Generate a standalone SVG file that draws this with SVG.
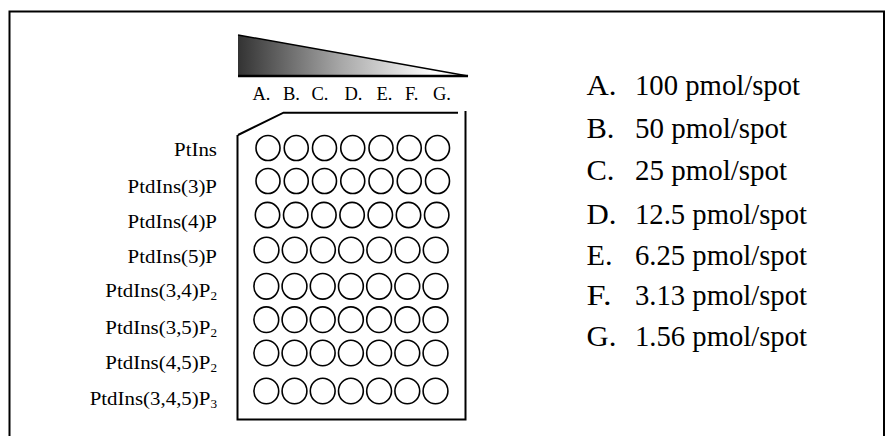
<svg xmlns="http://www.w3.org/2000/svg" width="886" height="436" viewBox="0 0 886 436">
<defs>
<linearGradient id="grad" x1="238" y1="0" x2="468" y2="0" gradientUnits="userSpaceOnUse">
<stop offset="0" stop-color="#333333"/>
<stop offset="0.45" stop-color="#a8a8a8"/>
<stop offset="0.85" stop-color="#ffffff"/>
</linearGradient>
<style>
text{font-family:"Liberation Serif","Times New Roman",serif;fill:#000}
.lab{font-size:19px;text-anchor:end}
.col{font-size:18.5px}
.leg{font-size:30px}
.well{fill:none;stroke:#000;stroke-width:1.6}
.edge{fill:none;stroke:#000;stroke-width:2}
</style>
</defs>
<rect width="886" height="436" fill="#fff"/>
<path class="edge" d="M9.5,440 V11.5 H884 V440" stroke="#222"/>

<g id="gradient-wedge">
<polygon points="238,35 238,76 468,76" fill="url(#grad)"/>
<path d="M238,35 L468,76" stroke="#000" stroke-width="1.5" fill="none"/>
<path d="M238,76 H468" stroke="#000" stroke-width="2.5" fill="none"/>
</g>

<g id="column-letters">
<text class="col" x="252.5" y="100">A.</text>
<text class="col" x="283" y="100">B.</text>
<text class="col" x="311.5" y="100">C.</text>
<text class="col" x="344.5" y="100">D.</text>
<text class="col" x="376.5" y="100">E.</text>
<text class="col" x="405" y="100">F.</text>
<text class="col" x="433" y="100">G.</text>
</g>

<g id="plate">
<path class="edge" d="M238,135 L283.5,112.7 H458 M465.5,111 V419.5 H237.5 V135"/>
</g>

<g id="wells">
<g transform="translate(268,148)">
<ellipse class="well" cx="0" cy="0" rx="12" ry="12.5"/><ellipse class="well" cx="28.25" cy="0" rx="12" ry="12.5"/><ellipse class="well" cx="56.5" cy="0" rx="12" ry="12.5"/><ellipse class="well" cx="84.75" cy="0" rx="12" ry="12.5"/><ellipse class="well" cx="113" cy="0" rx="12" ry="12.5"/><ellipse class="well" cx="141.25" cy="0" rx="12" ry="12.5"/><ellipse class="well" cx="169.5" cy="0" rx="12" ry="12.5"/>
</g>
<g transform="translate(268,181)">
<ellipse class="well" cx="0" cy="0" rx="12" ry="12.5"/><ellipse class="well" cx="28.25" cy="0" rx="12" ry="12.5"/><ellipse class="well" cx="56.5" cy="0" rx="12" ry="12.5"/><ellipse class="well" cx="84.75" cy="0" rx="12" ry="12.5"/><ellipse class="well" cx="113" cy="0" rx="12" ry="12.5"/><ellipse class="well" cx="141.25" cy="0" rx="12" ry="12.5"/><ellipse class="well" cx="169.5" cy="0" rx="12" ry="12.5"/>
</g>
<g transform="translate(267.5,215)">
<ellipse class="well" cx="0" cy="0" rx="12.2" ry="12.6"/><ellipse class="well" cx="28.2" cy="0" rx="12.2" ry="12.6"/><ellipse class="well" cx="56.4" cy="0" rx="12.2" ry="12.6"/><ellipse class="well" cx="84.6" cy="0" rx="12.2" ry="12.6"/><ellipse class="well" cx="112.8" cy="0" rx="12.2" ry="12.6"/><ellipse class="well" cx="141" cy="0" rx="12.2" ry="12.6"/><ellipse class="well" cx="169.2" cy="0" rx="12.2" ry="12.6"/>
</g>
<g transform="translate(266.5,250)">
<ellipse class="well" cx="0" cy="0" rx="12.4" ry="12.8"/><ellipse class="well" cx="28.2" cy="0" rx="12.4" ry="12.8"/><ellipse class="well" cx="56.4" cy="0" rx="12.4" ry="12.8"/><ellipse class="well" cx="84.6" cy="0" rx="12.4" ry="12.8"/><ellipse class="well" cx="112.8" cy="0" rx="12.4" ry="12.8"/><ellipse class="well" cx="141" cy="0" rx="12.4" ry="12.8"/><ellipse class="well" cx="169.2" cy="0" rx="12.4" ry="12.8"/>
</g>
<g transform="translate(266.3,286.3)">
<ellipse class="well" cx="0" cy="0" rx="12.4" ry="12.8"/><ellipse class="well" cx="28.2" cy="0" rx="12.4" ry="12.8"/><ellipse class="well" cx="56.4" cy="0" rx="12.4" ry="12.8"/><ellipse class="well" cx="84.6" cy="0" rx="12.4" ry="12.8"/><ellipse class="well" cx="112.8" cy="0" rx="12.4" ry="12.8"/><ellipse class="well" cx="141" cy="0" rx="12.4" ry="12.8"/><ellipse class="well" cx="169.2" cy="0" rx="12.4" ry="12.8"/>
</g>
<g transform="translate(266.3,319.7)">
<ellipse class="well" cx="0" cy="0" rx="12.4" ry="12.8"/><ellipse class="well" cx="28.2" cy="0" rx="12.4" ry="12.8"/><ellipse class="well" cx="56.4" cy="0" rx="12.4" ry="12.8"/><ellipse class="well" cx="84.6" cy="0" rx="12.4" ry="12.8"/><ellipse class="well" cx="112.8" cy="0" rx="12.4" ry="12.8"/><ellipse class="well" cx="141" cy="0" rx="12.4" ry="12.8"/><ellipse class="well" cx="169.2" cy="0" rx="12.4" ry="12.8"/>
</g>
<g transform="translate(266.3,353)">
<ellipse class="well" cx="0" cy="0" rx="12.4" ry="12.8"/><ellipse class="well" cx="28.2" cy="0" rx="12.4" ry="12.8"/><ellipse class="well" cx="56.4" cy="0" rx="12.4" ry="12.8"/><ellipse class="well" cx="84.6" cy="0" rx="12.4" ry="12.8"/><ellipse class="well" cx="112.8" cy="0" rx="12.4" ry="12.8"/><ellipse class="well" cx="141" cy="0" rx="12.4" ry="12.8"/><ellipse class="well" cx="169.2" cy="0" rx="12.4" ry="12.8"/>
</g>
<g transform="translate(266.3,391)">
<ellipse class="well" cx="0" cy="0" rx="12.4" ry="12.8"/><ellipse class="well" cx="28.2" cy="0" rx="12.4" ry="12.8"/><ellipse class="well" cx="56.4" cy="0" rx="12.4" ry="12.8"/><ellipse class="well" cx="84.6" cy="0" rx="12.4" ry="12.8"/><ellipse class="well" cx="112.8" cy="0" rx="12.4" ry="12.8"/><ellipse class="well" cx="141" cy="0" rx="12.4" ry="12.8"/><ellipse class="well" cx="169.2" cy="0" rx="12.4" ry="12.8"/>
</g>
</g>

<g id="row-labels">
<text class="lab" transform="matrix(1.1,0,0,1,217,156)">PtIns</text>
<text class="lab" transform="matrix(1.1,0,0,1,217,192.5)">PtdIns(3)P</text>
<text class="lab" transform="matrix(1.1,0,0,1,217,228)">PtdIns(4)P</text>
<text class="lab" transform="matrix(1.1,0,0,1,217,263)">PtdIns(5)P</text>
<text class="lab" transform="matrix(1.1,0,0,1,217,297)">PtdIns(3,4)P<tspan font-size="12" dy="3">2</tspan></text>
<text class="lab" transform="matrix(1.1,0,0,1,217,334)">PtdIns(3,5)P<tspan font-size="12" dy="3">2</tspan></text>
<text class="lab" transform="matrix(1.1,0,0,1,217,369)">PtdIns(4,5)P<tspan font-size="12" dy="3">2</tspan></text>
<text class="lab" transform="matrix(1.1,0,0,1,217,405)">PtdIns(3,4,5)P<tspan font-size="12" dy="3">3</tspan></text>
</g>

<g id="legend">
<text class="leg" x="586.5" y="95" textLength="30" lengthAdjust="spacingAndGlyphs">A.</text>
<text class="leg" x="635" y="95" textLength="165" lengthAdjust="spacingAndGlyphs">100 pmol/spot</text>
<text class="leg" x="586.5" y="138" textLength="28" lengthAdjust="spacingAndGlyphs">B.</text>
<text class="leg" x="635" y="138" textLength="152" lengthAdjust="spacingAndGlyphs">50 pmol/spot</text>
<text class="leg" x="586.5" y="180" textLength="28" lengthAdjust="spacingAndGlyphs">C.</text>
<text class="leg" x="635" y="180" textLength="152" lengthAdjust="spacingAndGlyphs">25 pmol/spot</text>
<text class="leg" x="586.5" y="224" textLength="30" lengthAdjust="spacingAndGlyphs">D.</text>
<text class="leg" x="635" y="224" textLength="172" lengthAdjust="spacingAndGlyphs">12.5 pmol/spot</text>
<text class="leg" x="586.5" y="265" textLength="26" lengthAdjust="spacingAndGlyphs">E.</text>
<text class="leg" x="635" y="265" textLength="172" lengthAdjust="spacingAndGlyphs">6.25 pmol/spot</text>
<text class="leg" x="586.5" y="305" textLength="25" lengthAdjust="spacingAndGlyphs">F.</text>
<text class="leg" x="635" y="305" textLength="172" lengthAdjust="spacingAndGlyphs">3.13 pmol/spot</text>
<text class="leg" x="586.5" y="346" textLength="30" lengthAdjust="spacingAndGlyphs">G.</text>
<text class="leg" x="635" y="346" textLength="172" lengthAdjust="spacingAndGlyphs">1.56 pmol/spot</text>
</g>
</svg>
